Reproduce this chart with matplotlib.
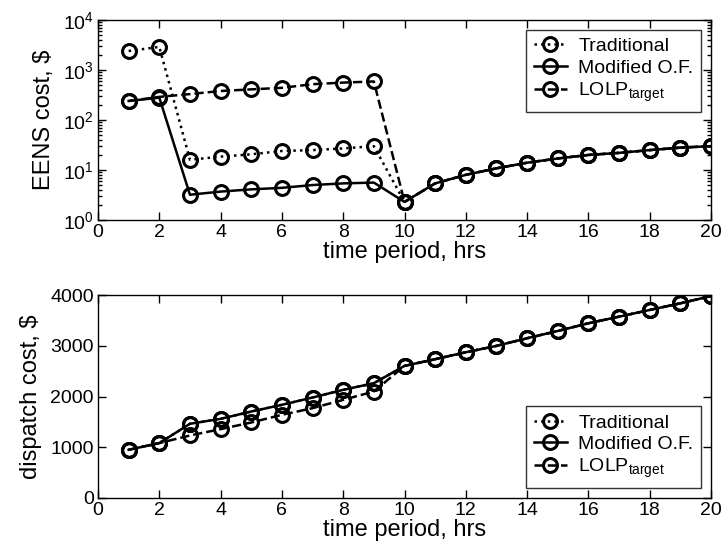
import numpy as np
import matplotlib
matplotlib.use("Agg")
import matplotlib.pyplot as plt
from matplotlib.ticker import LogLocator, NullFormatter

plt.rcParams['font.family'] = ['Liberation Sans', 'DejaVu Sans']

# ---- donnees ----
hours = np.arange(1, 21)

# cout EENS ($)
eens_traditional = [2400, 2900, 16, 18.5, 20.6, 24, 25, 27, 30, 2.3,
                    5.4, 8, 10.8, 14, 17, 20, 22, 25, 28, 30]
eens_modified = [240, 280, 3.2, 3.7, 4.1, 4.4, 5.0, 5.4, 5.6, 2.3,
                 5.4, 8, 10.8, 14, 17, 20, 22, 25, 28, 30]
eens_lolp = [240, 290, 330, 380, 410, 440, 520, 560, 590, 2.3,
             5.4, 8, 10.8, 14, 17, 20, 22, 25, 28, 30]

# cout de dispatch ($)
disp_modified = [950, 1082, 1462, 1560, 1704, 1836, 1980, 2131, 2262, 2603,
                 2735, 2872, 2997, 3148, 3291, 3443, 3573, 3705, 3836, 3980]
disp_traditional = list(disp_modified)
disp_lolp = [950, 1082, 1232, 1357, 1488, 1639, 1770, 1934, 2098, 2603,
             2735, 2872, 2997, 3148, 3291, 3443, 3573, 3705, 3836, 3980]

labels = ["Traditional", "Modified O.F.", "LOLP$_{\\mathregular{target}}$"]
styles = [":", "-", "--"]

fig = plt.figure(figsize=(7.25, 5.58), dpi=100)
W, H = 725, 558
ax1 = fig.add_axes([98 / W, 1 - 220 / H, 613 / W, 200 / H])
ax2 = fig.add_axes([98 / W, 1 - 498 / H, 613 / W, 203 / H])

mk = dict(marker='o', markersize=10, markerfacecolor='none',
          markeredgecolor='black', markeredgewidth=2.2, color='black', linewidth=1.8)

for ys, ls, lab in zip([eens_traditional, eens_modified, eens_lolp], styles, labels):
    ax1.plot(hours, ys, linestyle=ls, label=lab, **mk)
for ys, ls, lab in zip([disp_traditional, disp_modified, disp_lolp], styles, labels):
    ax2.plot(hours, ys, linestyle=ls, label=lab, **mk)

# --- axe du haut (log) ---
ax1.set_yscale('log')
ax1.set_ylim(1, 1e4)
ax1.yaxis.set_major_locator(LogLocator(base=10, numticks=10))
ax1.yaxis.set_minor_locator(LogLocator(base=10, subs=np.arange(2, 10), numticks=10))
ax1.yaxis.set_minor_formatter(NullFormatter())
ax1.set_ylabel("EENS cost, $", fontsize=17, labelpad=6)

# --- axe du bas ---
ax2.set_ylim(0, 4000)
ax2.set_yticks([0, 1000, 2000, 3000, 4000])
ax2.set_ylabel("dispatch cost, $", fontsize=17, labelpad=6)

for ax in (ax1, ax2):
    ax.set_xlim(0, 20)
    ax.set_xticks(range(0, 21, 2))
    ax.set_xlabel("time period, hrs", fontsize=17, labelpad=0)
    ax.tick_params(which='both', direction='in', top=True, right=True,
                   labelsize=14, width=1, pad=3)
    ax.tick_params(which='major', length=6)
    ax.tick_params(which='minor', length=3)
    for sp in ax.spines.values():
        sp.set_linewidth(1)

leg_kw = dict(fontsize=14, frameon=True, fancybox=False, edgecolor='black',
              handlelength=1.7, handletextpad=0.6, borderpad=0.4,
              labelspacing=0.2, borderaxespad=0.5)
l1 = ax1.legend(loc='upper right', **leg_kw)
l2 = ax2.legend(loc='lower right', **leg_kw)
for l in (l1, l2):
    l.get_frame().set_linewidth(1)

fig.savefig("out.png", dpi=100)
